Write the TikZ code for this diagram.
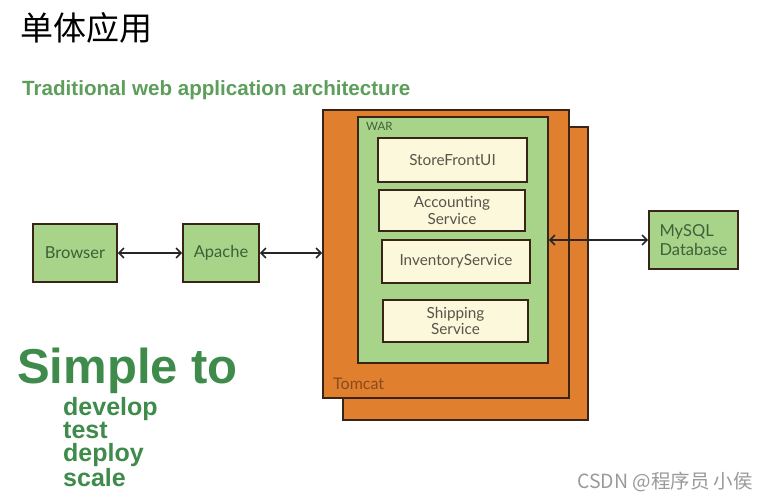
\documentclass[tikz,border=0pt]{standalone}
\usepackage{fontspec}
\setmainfont{Lato}
\newfontfamily\cjk{Noto Sans CJK SC}
\newfontfamily\hdr{Liberation Sans}
\usetikzlibrary{arrows.meta}
\definecolor{boxgreen}{HTML}{A8D48A}
\definecolor{tomorange}{HTML}{E07F2E}
\definecolor{cream}{HTML}{FCF8DC}
\definecolor{edge}{HTML}{3A2418}
\definecolor{hgreen}{HTML}{5C9E5A}
\definecolor{sgreen}{HTML}{3E8B4B}
\definecolor{btext}{HTML}{3F5F38}
\definecolor{ctext}{HTML}{55554A}
\definecolor{ttext}{HTML}{8A4A20}
\definecolor{wm}{HTML}{9A9A9A}
\tikzset{
  gbox/.style={draw=edge, line width=1.8pt, fill=boxgreen, text=btext, font=\fontsize{16.5}{19}\selectfont, align=left, inner sep=0pt},
  obox/.style={draw=edge, line width=1.8pt, fill=tomorange, inner sep=0pt},
  cbox/.style={draw=edge, line width=1.8pt, fill=cream, text=ctext, font=\fontsize{15.3}{16.5}\selectfont, align=center, inner sep=0pt},
  conn/.style={line width=1.5pt, draw=black!85, {Straight Barb[length=5pt,width=10pt]}-{Straight Barb[length=5pt,width=10pt]}},
  gtxt/.style={inner sep=0pt, anchor=base west, text=sgreen}
}
\begin{document}
\begin{tikzpicture}[x=1pt,y=-1pt]
\useasboundingbox (0,0) rectangle (769,500);
\fill[white] (0,0) rectangle (769,500);

\node[inner sep=0pt, anchor=west] (title) at (20,28) {\cjk\fontsize{33}{36}\selectfont 单体应用};
\node[inner sep=0pt, anchor=base west, text=hgreen] (sub) at (22,96) {\hdr\bfseries\fontsize{20.6}{23}\selectfont Traditional web application architecture};

% Tomcat boxes
\node[obox, minimum width=245pt, minimum height=293pt] (back) at (465.5,273.5) {};
\node[obox, minimum width=246pt, minimum height=288pt] (tomcat) at (446,254) {};
\node[inner sep=0pt, anchor=base west, text=ttext, font=\fontsize{16}{18}\selectfont] (tlabel) at (333,389) {Tomcat};

% WAR
\node[draw=edge, line width=1.8pt, fill=boxgreen, minimum width=190pt, minimum height=246pt, inner sep=0pt] (war) at (453,240) {};
\node[inner sep=0pt, anchor=base west, text=btext, font=\fontsize{11.5}{12}\selectfont] (wlabel) at (366,131) {WAR};

\node[cbox, minimum width=149pt, minimum height=44pt] (sf) at (452.5,160) {StoreFrontUI};
\node[cbox, minimum width=146pt, minimum height=41pt] (acc) at (452,210.5) {Accounting\\Service};
\node[cbox, minimum width=148pt, minimum height=43pt] (inv) at (456,261.5) {InventoryService};
\node[cbox, minimum width=145pt, minimum height=42pt] (ship) at (455.5,321) {Shipping\\Service};

% left boxes
\node[gbox, minimum width=84pt, minimum height=58pt] (browser) at (75,253) {Browser};
\node[gbox, minimum width=76pt, minimum height=58pt] (apache) at (221,253) {Apache};
\node[gbox, minimum width=89pt, minimum height=58pt] (mysql) at (693.5,240) {MySQL\\Database};

\draw[conn] (browser.east) -- (apache.west);
\draw[conn] (apache.east) -- (tomcat.west |- apache.east);
\draw[conn] (war.east |- mysql.west) -- (mysql.west);

% Simple to
\node[gtxt, font=\hdr\bfseries\fontsize{49}{52}\selectfont] (simple) at (17,383) {Simple to};
\node[gtxt, align=left, font=\hdr\bfseries\fontsize{25}{23.3}\selectfont] (list) at (63,486) {develop\\test\\deploy\\scale};

\node[inner sep=0pt, anchor=base west, text=wm] (wmark) at (577,488) {\cjk\fontsize{19.5}{21}\selectfont CSDN @程序员 小侯};
\end{tikzpicture}
\end{document}
